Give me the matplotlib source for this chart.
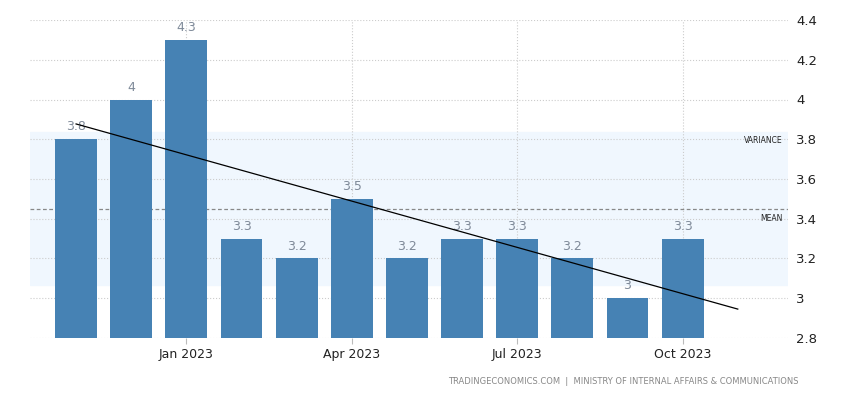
import matplotlib.pyplot as plt
import numpy as np

# monthly values, Nov 2022 .. Oct 2023
months = ['Nov 2022', 'Dec 2022', 'Jan 2023', 'Feb 2023', 'Mar 2023', 'Apr 2023',
          'May 2023', 'Jun 2023', 'Jul 2023', 'Aug 2023', 'Sep 2023', 'Oct 2023']
values = [3.8, 4.0, 4.3, 3.3, 3.2, 3.5, 3.2, 3.3, 3.3, 3.2, 3.0, 3.3]
labels = ['3.8', '4', '4.3', '3.3', '3.2', '3.5', '3.2', '3.3', '3.3', '3.2', '3', '3.3']
tick_months = ['Jan 2023', 'Apr 2023', 'Jul 2023', 'Oct 2023']
yticks = [2.8, 3, 3.2, 3.4, 3.6, 3.8, 4, 4.2, 4.4]

x = np.arange(len(values))
vals = np.array(values)
mean = vals.mean()
sd = vals.std(ddof=1)

fig = plt.figure(figsize=(8.5, 4), dpi=100)
ax = fig.add_axes([0.035, 0.155, 0.892, 0.795])

ax.set_xlim(-0.84, 12.91)
ax.set_ylim(2.8, 4.4)

# variance band + mean
ax.axhspan(mean - sd, mean + sd, color='#f0f7fe', zorder=0)
ax.axhline(mean, color='#888888', lw=0.9, ls=(0, (3, 2)), zorder=1)

ax.bar(x, vals, width=0.76, color='#4682b4', zorder=2)
for xi, v, t in zip(x, vals, labels):
    ax.text(xi, v + 0.03, t, ha='center', va='bottom', fontsize=9, color='#7f8a99', zorder=3)

# linear trend, extended one month past the last bar
k, b = np.polyfit(x, vals, 1)
xt = np.array([0, len(values)])
ax.plot(xt, k * xt + b, color='black', lw=0.9, zorder=4)

ax.text(12.82, mean + sd - 0.04, 'VARIANCE', fontsize=5.5, ha='right', va='center', color='#222222')
ax.text(12.82, mean - 0.05, 'MEAN', fontsize=5.5, ha='right', va='center', color='#222222')

ax.yaxis.tick_right()
ax.set_yticks(yticks)
ax.set_yticklabels([('%g' % v) for v in yticks], fontsize=9.5, color='#222222')
ax.tick_params(axis='y', length=0, pad=6)

ax.set_xticks([months.index(m) for m in tick_months])
ax.set_xticklabels(tick_months, fontsize=9, color='#222222')
ax.tick_params(axis='x', length=4, color='#bbbbbb', pad=3)

ax.grid(True, axis='both', color='#cccccc', ls=':', lw=0.8, zorder=0)
ax.set_axisbelow(True)
for s in ax.spines.values():
    s.set_visible(False)

fig.text(0.94, 0.045, 'TRADINGECONOMICS.COM  |  MINISTRY OF INTERNAL AFFAIRS & COMMUNICATIONS',
         fontsize=6, color='#888888', ha='right', va='center')

fig.savefig('out.png', dpi=100)
